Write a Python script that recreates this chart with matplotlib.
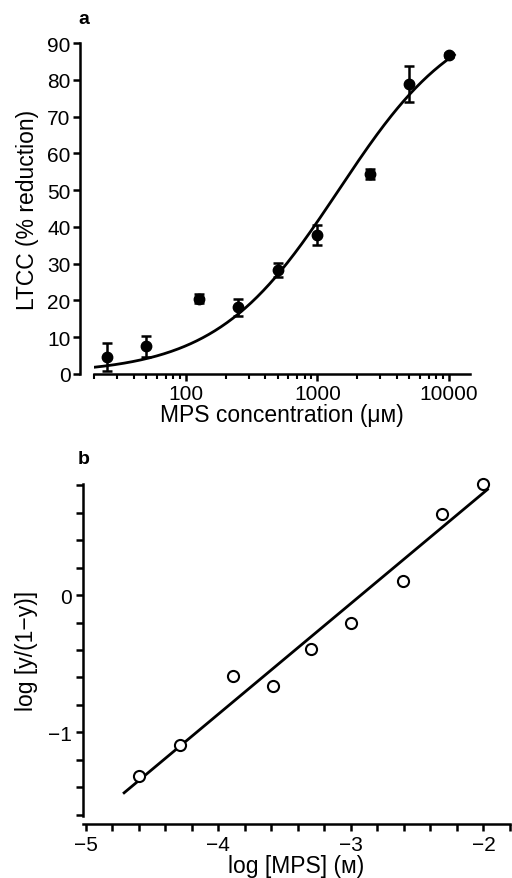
import numpy as np
import matplotlib
matplotlib.use("Agg")
import matplotlib.pyplot as plt
from matplotlib.ticker import FixedLocator, NullFormatter, FixedFormatter

plt.rcParams['font.family'] = ['Liberation Sans', 'DejaVu Sans']

# panel a: LTCC reduction vs MPS concentration (uM)
conc_um = [25, 50, 125, 250, 500, 1000, 2500, 5000, 10000]
ltcc_mean = [4.5, 7.5, 20.5, 18.2, 28.3, 37.7, 54.3, 78.8, 86.8]
ltcc_sem = [3.8, 2.8, 1.2, 2.3, 1.8, 2.7, 1.4, 4.9, 0.5]

# fitted Hill curve
hill_top = 100.0
hill_ec50 = 1450.0
hill_n = 0.93
hill_range = (19.5, 11000)

# panel b: Hill plot
log_mps = [-4.60, -4.29, -3.89, -3.59, -3.30, -3.00, -2.61, -2.31, -2.00]
log_ratio = [-1.32, -1.095, -0.59, -0.66, -0.39, -0.20, 0.10, 0.59, 0.81]
fit_slope = 0.807
fit_intercept = 2.36
fit_range = (-4.71, -1.97)

fig = plt.figure(figsize=(5.12, 8.79), dpi=100)

tick_fs = 15
label_fs = 16.5

# ---- panel a ----
ax1 = fig.add_axes([94 / 512, 1 - 375 / 879, (470 - 94) / 512, (375 - 44) / 879])
xs = np.logspace(np.log10(hill_range[0]), np.log10(hill_range[1]), 300)
ys = hill_top / (1 + (hill_ec50 / xs) ** hill_n)
ax1.plot(xs, ys, color='black', lw=2.0)
ax1.errorbar(conc_um, ltcc_mean, yerr=ltcc_sem, fmt='o', color='black',
             ms=7.5, capsize=3.8, elinewidth=1.8, capthick=1.8, clip_on=False)
ax1.set_xscale('log')
ax1.set_xlim(20, 14450)
ax1.set_ylim(0, 90)
ax1.set_yticks(range(0, 91, 10))
ax1.xaxis.set_major_locator(FixedLocator([100, 1000, 10000]))
ax1.xaxis.set_major_formatter(FixedFormatter(['100', '1000', '10000']))
minors = [m * 10 ** e for e in (1, 2, 3) for m in range(2, 10)]
ax1.xaxis.set_minor_locator(FixedLocator(minors))
ax1.xaxis.set_minor_formatter(NullFormatter())
ax1.spines['top'].set_visible(False)
ax1.spines['right'].set_visible(False)
ax1.spines['left'].set_position(('outward', 10))
for s in ('left', 'bottom'):
    ax1.spines[s].set_linewidth(1.8)
ax1.tick_params(axis='both', which='major', direction='out', length=5, width=1.8,
                labelsize=tick_fs, pad=2)
ax1.tick_params(axis='x', which='minor', direction='out', length=3.5, width=1.5)
ax1.set_xlabel('MPS concentration (μᴍ)', fontsize=label_fs, labelpad=0)
ax1.set_ylabel('LTCC (% reduction)', fontsize=label_fs, labelpad=6)
fig.text(78 / 512, 1 - 20 / 879, 'a', fontsize=14, fontweight='bold', va='center')

# ---- panel b ----
ax2 = fig.add_axes([83 / 512, 1 - 817 / 879, (510 - 83) / 512, (817 - 485) / 879])
fx = np.linspace(fit_range[0], fit_range[1], 50)
ax2.plot(fx, fit_slope * fx + fit_intercept, color='black', lw=2.0)
ax2.plot(log_mps, log_ratio, 'o', mfc='white', mec='black', ms=8, mew=1.5,
         clip_on=False, zorder=3)
ax2.set_xlim(-5.02, -1.8)
ax2.set_ylim(-1.61, 0.81)
ax2.xaxis.set_major_locator(FixedLocator([-5, -4, -3, -2]))
ax2.xaxis.set_major_formatter(FixedFormatter(['−5', '−4', '−3', '−2']))
ax2.xaxis.set_minor_locator(FixedLocator(np.arange(-5, -1.75, 0.2)))
ax2.yaxis.set_major_locator(FixedLocator([-1, 0]))
ax2.yaxis.set_major_formatter(FixedFormatter(['−1', '0']))
ax2.yaxis.set_minor_locator(FixedLocator(np.arange(-1.6, 0.85, 0.2)))
ax2.spines['top'].set_visible(False)
ax2.spines['right'].set_visible(False)
ax2.spines['bottom'].set_position(('outward', 6))
for s in ('left', 'bottom'):
    ax2.spines[s].set_linewidth(1.8)
ax2.tick_params(axis='both', which='both', direction='out', length=5, width=1.8,
                labelsize=tick_fs, pad=3)
ax2.set_xlabel('log [MPS] (ᴍ)', fontsize=label_fs, labelpad=0)
ax2.set_ylabel('log [y/(1−y)]', fontsize=label_fs, labelpad=7)
fig.text(78 / 512, 1 - 460 / 879, 'b', fontsize=14, fontweight='bold', va='center')

fig.savefig('out.png', dpi=100)
